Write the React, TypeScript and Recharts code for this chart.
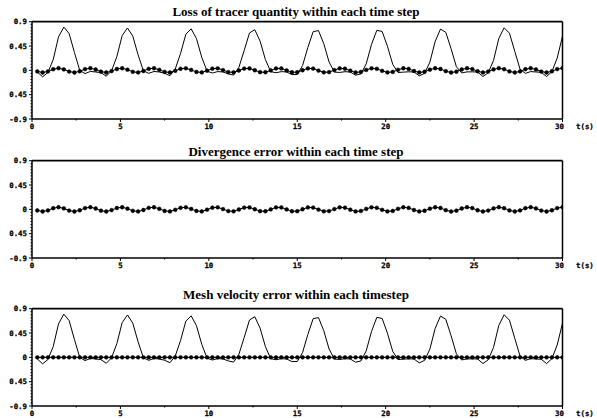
import React from 'react';
import { LineChart, Line, XAxis, YAxis, ReferenceLine } from 'recharts';

const times = [
  0.3, 0.6, 0.9, 1.2, 1.5, 1.8, 2.1, 2.4, 2.7, 3.0,
  3.3, 3.6, 3.9, 4.2, 4.5, 4.8, 5.1, 5.4, 5.7, 6.0,
  6.3, 6.6, 6.9, 7.2, 7.5, 7.8, 8.1, 8.4, 8.7, 9.0,
  9.3, 9.6, 9.9, 10.2, 10.5, 10.8, 11.1, 11.4, 11.7, 12.0,
  12.3, 12.6, 12.9, 13.2, 13.5, 13.8, 14.1, 14.4, 14.7, 15.0,
  15.3, 15.6, 15.9, 16.2, 16.5, 16.8, 17.1, 17.4, 17.7, 18.0,
  18.3, 18.6, 18.9, 19.2, 19.5, 19.8, 20.1, 20.4, 20.7, 21.0,
  21.3, 21.6, 21.9, 22.2, 22.5, 22.8, 23.1, 23.4, 23.7, 24.0,
  24.3, 24.6, 24.9, 25.2, 25.5, 25.8, 26.1, 26.4, 26.7, 27.0,
  27.3, 27.6, 27.9, 28.2, 28.5, 28.8, 29.1, 29.4, 29.7, 30.0,
];

// solid curve (tracer loss / mesh velocity reference curve)
const tracerLoss = [
  -0.03, -0.12, -0.04, 0.2, 0.62, 0.8, 0.68, 0.33, 0.0, -0.06,
  -0.02, -0.03, -0.042, -0.109, -0.008, 0.256, 0.644, 0.784, 0.633, 0.286,
  -0.008, -0.055, -0.021, -0.03, -0.054, -0.099, 0.024, 0.312, 0.668, 0.768,
  0.587, 0.242, -0.016, -0.049, -0.023, -0.03, -0.066, -0.088, 0.056, 0.368,
  0.692, 0.752, 0.54, 0.198, -0.024, -0.044, -0.024, -0.03, -0.078, -0.077,
  0.088, 0.424, 0.716, 0.736, 0.493, 0.154, -0.032, -0.039, -0.025, -0.03,
  -0.09, -0.067, 0.12, 0.48, 0.74, 0.72, 0.447, 0.11, -0.04, -0.033,
  -0.027, -0.03, -0.102, -0.056, 0.152, 0.536, 0.764, 0.704, 0.4, 0.066,
  -0.048, -0.028, -0.028, -0.03, -0.114, -0.045, 0.184, 0.592, 0.788, 0.688,
  0.353, 0.022, -0.056, -0.023, -0.03, -0.036, -0.115, -0.024, 0.228, 0.632,
];

// marker curve (divergence error)
const divergenceError = [
  -0.02, -0.04, -0.02, 0.021, 0.04, 0.018, -0.022, -0.04, -0.017, 0.023,
  0.04, 0.016, -0.024, -0.04, -0.014, 0.025, 0.039, 0.013, -0.027, -0.039,
  -0.012, 0.028, 0.039, 0.01, -0.029, -0.038, -0.009, 0.029, 0.038, 0.008,
  -0.03, -0.038, -0.006, 0.031, 0.037, 0.005, -0.032, -0.036, -0.003, 0.033,
  0.036, 0.002, -0.034, -0.035, -0.001, 0.035, 0.035, -0.001, -0.035, -0.034,
  0.002, 0.036, 0.033, -0.004, -0.036, -0.032, 0.005, 0.037, 0.031, -0.006,
  -0.038, -0.03, 0.008, 0.038, 0.029, -0.009, -0.038, -0.029, 0.01, 0.039,
  0.027, -0.012, -0.039, -0.026, 0.013, 0.039, 0.025, -0.015, -0.04, -0.024,
  0.016, 0.04, 0.023, -0.017, -0.04, -0.022, 0.018, 0.04, 0.021, -0.02,
  -0.04, -0.02, 0.021, 0.04, 0.018, -0.022, -0.04, -0.017, 0.023, 0.04,
];

const meshVelocityError = [
  0, 0, 0, 0, 0, 0, 0, 0, 0, 0,
  0, 0, 0, 0, 0, 0, 0, 0, 0, 0,
  0, 0, 0, 0, 0, 0, 0, 0, 0, 0,
  0, 0, 0, 0, 0, 0, 0, 0, 0, 0,
  0, 0, 0, 0, 0, 0, 0, 0, 0, 0,
  0, 0, 0, 0, 0, 0, 0, 0, 0, 0,
  0, 0, 0, 0, 0, 0, 0, 0, 0, 0,
  0, 0, 0, 0, 0, 0, 0, 0, 0, 0,
  0, 0, 0, 0, 0, 0, 0, 0, 0, 0,
  0, 0, 0, 0, 0, 0, 0, 0, 0, 0,
];

const titles = [
  'Loss of tracer quantity within each time step',
  'Divergence error within each time step',
  'Mesh velocity error within each timestep',
];

const xMajorTicks = [0, 5, 10, 15, 20, 25, 30];
const xMinorTicks = [2.5, 7.5, 12.5, 17.5, 22.5, 27.5];
const yMajorTicks = [0.9, 0.45, 0, -0.45, -0.9];
const yMajorLabels = ['0.9', '0.45', '0', '0.45', '-0.9'];
const xUnitLabel = 't(s)';

const yMinorTicks: number[] = [];
for (let i = 0; i < yMajorTicks.length - 1; i++) {
  const a = yMajorTicks[i];
  const b = yMajorTicks[i + 1];
  for (let j = 1; j < 8; j++) yMinorTicks.push(a + ((b - a) * j) / 8);
}
const yAllTicks = [...yMajorTicks, ...yMinorTicks].sort((p, q) => p - q);
const xAllTicks = [...xMajorTicks, ...xMinorTicks].sort((p, q) => p - q);

const MONO = "'DejaVu Sans Mono', 'Liberation Mono', monospace";
const SERIF = "'Liberation Serif', 'DejaVu Serif', serif";
const TICK_FS = 7.4;

const XTick = (props: any) => {
  const { x, y, payload } = props;
  const v = payload.value;
  const isMajor = xMajorTicks.indexOf(v) >= 0;
  return (
    <g>
      <line x1={x} x2={x} y1={y} y2={y + (isMajor ? 3 : 1.5)} stroke="#000" strokeWidth={1} />
      {isMajor && (
        <text x={v === 30 ? x - 3 : x} y={y + 10.3} textAnchor="middle" fontFamily={MONO} fontWeight="bold" fontSize={TICK_FS} fill="#000" stroke="#000" strokeWidth={0.25}>
          {String(v)}
        </text>
      )}
      {v === 30 && (
        <text x={x + 13.5} y={y + 10.3} textAnchor="start" fontFamily={MONO} fontWeight="bold" fontSize={TICK_FS} fill="#000" stroke="#000" strokeWidth={0.25}>
          {xUnitLabel}
        </text>
      )}
    </g>
  );
};

const YTick = (props: any) => {
  const { x, y, payload } = props;
  const v = payload.value;
  const idx = yMajorTicks.findIndex((m) => Math.abs(m - v) < 1e-6);
  const isMajor = idx >= 0;
  return (
    <g>
      <line x1={x} x2={x - (isMajor ? 3 : 1.5)} y1={y} y2={y} stroke="#000" strokeWidth={1} />
      {isMajor && (
        <text x={x - 5} y={y + 2.6} textAnchor="end" fontFamily={MONO} fontWeight="bold" fontSize={TICK_FS} fill="#000" stroke="#000" strokeWidth={0.25}>
          {yMajorLabels[idx]}
        </text>
      )}
    </g>
  );
};

const buildRows = (solid: number[] | null, dots: number[]) =>
  times.map((t, i) => ({ t, solid: solid ? solid[i] : null, dots: dots[i] }));

const panels = [
  { top: 0, rows: buildRows(tracerLoss, divergenceError), hasSolid: true, titleY: 11.7 },
  { top: 139, rows: buildRows(null, divergenceError), hasSolid: false, titleY: 151.7 },
  { top: 287.3, rows: buildRows(tracerLoss, meshVelocityError), hasSolid: true, titleY: 295 },
];

const Panel = ({ p, title }: { p: any; title: string }) => (
  <>
    <div
      style={{
        position: 'absolute',
        left: 0,
        width: 592,
        top: p.titleY - 8,
        height: 16,
        lineHeight: '16px',
        textAlign: 'center',
        fontFamily: SERIF,
        fontWeight: 'bold',
        fontSize: 13,
        color: '#000',
      }}
    >
      {title}
    </div>
    <div style={{ position: 'absolute', left: 0, top: p.top }}>
      <LineChart width={597} height={131} data={p.rows} margin={{ top: 21.7, right: 34.5, bottom: 0, left: 2 }}>
        <XAxis
          dataKey="t"
          type="number"
          domain={[0, 30]}
          ticks={xAllTicks}
          interval={0}
          height={12}
          tickSize={0}
          tickMargin={0}
          tickLine={false}
          axisLine={{ stroke: '#000', strokeWidth: 1.5 }}
          tick={<XTick />}
          allowDataOverflow
        />
        <YAxis
          type="number"
          domain={[-0.9, 0.9]}
          ticks={yAllTicks}
          interval={0}
          width={30}
          tickSize={0}
          tickMargin={0}
          tickLine={false}
          axisLine={{ stroke: '#000', strokeWidth: 1.5 }}
          tick={<YTick />}
          allowDataOverflow
        />
        <ReferenceLine y={0.9} stroke="#000" strokeWidth={1.8} />
        <ReferenceLine x={30} stroke="#000" strokeWidth={1.5} />
        {p.hasSolid && (
          <Line type="linear" dataKey="solid" stroke="#000" strokeWidth={1} dot={false} isAnimationActive={false} />
        )}
        <Line
          type="linear"
          dataKey="dots"
          stroke="#000"
          strokeWidth={1}
          dot={{ r: 1.9, fill: '#000', stroke: '#000', strokeWidth: 0.5 }}
          isAnimationActive={false}
        />
      </LineChart>
    </div>
  </>
);

export default function App() {
  return (
    <div style={{ position: 'absolute', left: 0, top: 0, width: 597, height: 418, background: '#fff' }}>
      {panels.map((p, i) => (
        <Panel key={i} p={p} title={titles[i]} />
      ))}
    </div>
  );
}
